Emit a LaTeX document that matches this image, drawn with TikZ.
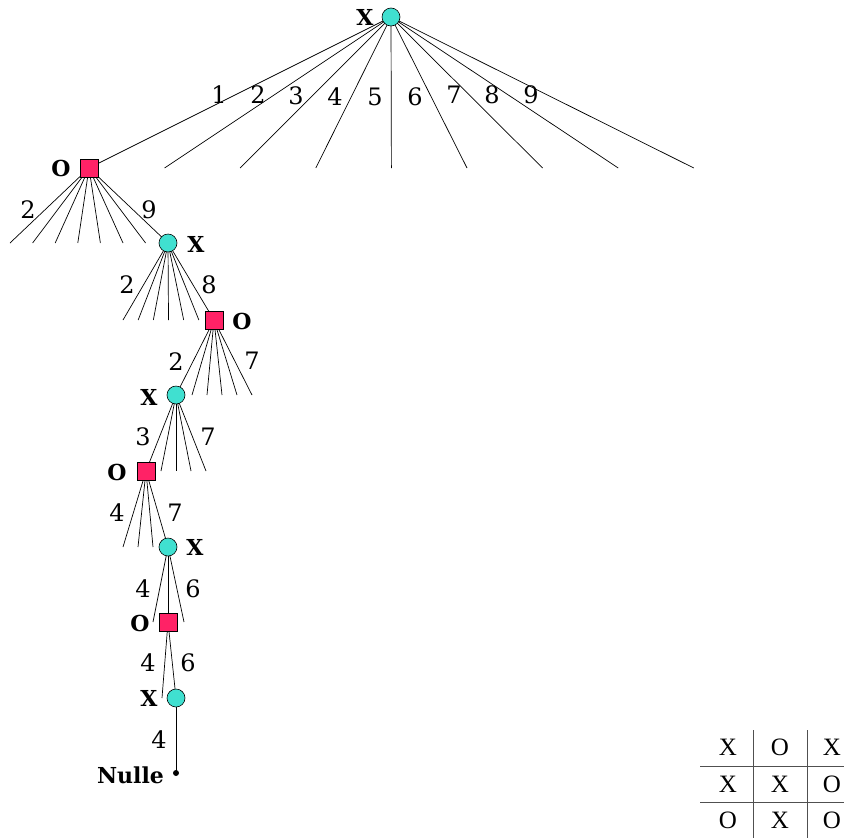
\documentclass[tikz,border=0pt]{standalone}
\usepackage{fontspec}
\setmainfont{DejaVu Serif}
\newfontfamily\gridfont{Liberation Serif}
\definecolor{turq}{RGB}{64,224,208}
\definecolor{pinkr}{RGB}{255,34,102}
\definecolor{gridgray}{RGB}{80,80,80}
\pgfdeclarelayer{background}
\pgfsetlayers{background,main}
\begin{document}
\begin{tikzpicture}[x=1pt,y=-1pt,
  xnode/.style={circle,draw,fill=turq,minimum size=18pt,inner sep=0pt,line width=0.6pt},
  onode/.style={rectangle,draw,fill=pinkr,minimum size=18pt,inner sep=0pt,line width=0.6pt},
  endnode/.style={circle,fill=black,minimum size=6pt,inner sep=0pt},
  lbl/.style={font=\fontsize{24}{26}\selectfont,inner sep=0pt},
  plbl/.style={font=\fontsize{22}{24}\selectfont\bfseries,inner sep=0pt},
  glbl/.style={font=\gridfont\fontsize{25}{27}\selectfont,inner sep=0pt},
  edge/.style={line width=0.7pt},
  gline/.style={line width=0.9pt,draw=gridgray}]
\useasboundingbox (0,0) rectangle (850,838);
% nodes
\node[xnode] (r) at (391,17) {};
\node[onode] (n1) at (89,168) {};
\node[xnode] (n2) at (168,243) {};
\node[onode] (n3) at (214,320) {};
\node[xnode] (n4) at (176,395) {};
\node[onode] (n5) at (146,471) {};
\node[xnode] (n6) at (168,547) {};
\node[onode] (n7) at (168,622) {};
\node[xnode] (n8) at (176,698) {};
\node[endnode] (nul) at (176,773) {};
% leaf ends
\foreach \i in {2,...,9} \coordinate (a\i) at ({89+75.6*(\i-1)},168);
\foreach \k in {0,...,6} \coordinate (b\k) at ({10+22.6*\k},243);
\foreach \k in {0,...,5} \coordinate (c\k) at ({123+15.17*\k},320);
\foreach \k in {0,...,4} \coordinate (d\k) at ({192+15*\k},395);
\foreach \k in {1,...,4} \coordinate (e\k) at ({146+15*\k},471);
\foreach \k in {0,...,2} \coordinate (f\k) at ({123+15*\k},547);
\coordinate (g0) at (153,622);
\coordinate (g1) at (184,622);
\coordinate (h0) at (162,698);
% edges
\begin{pgfonlayer}{background}
\draw[edge] (r.center) -- (n1.center);
\foreach \i in {2,...,9} \draw[edge] (r.center) -- (a\i);
\foreach \k in {0,...,6} \draw[edge] (n1.center) -- (b\k);
\draw[edge] (n1.center) -- (n2.center);
\foreach \k in {0,...,5} \draw[edge] (n2.center) -- (c\k);
\draw[edge] (n2.center) -- (n3.center);
\draw[edge] (n3.center) -- (n4.center);
\foreach \k in {0,...,4} \draw[edge] (n3.center) -- (d\k);
\draw[edge] (n4.center) -- (n5.center);
\foreach \k in {1,...,4} \draw[edge] (n4.center) -- (e\k);
\foreach \k in {0,...,2} \draw[edge] (n5.center) -- (f\k);
\draw[edge] (n5.center) -- (n6.center);
\draw[edge] (n6.center) -- (g0);
\draw[edge] (n6.center) -- (n7.center);
\draw[edge] (n6.center) -- (g1);
\draw[edge] (n7.center) -- (h0);
\draw[edge] (n7.center) -- (n8.center);
\draw[edge] (n8.center) -- (nul.center);
\end{pgfonlayer}
% player labels
\node[plbl] (pr) at (365,17) {X};
\node[plbl] (p1) at (61,168) {O};
\node[plbl] (p2) at (196,244) {X};
\node[plbl] (p3) at (242,321) {O};
\node[plbl] (p4) at (149,397) {X};
\node[plbl] (p5) at (117,472) {O};
\node[plbl] (p6) at (195,547) {X};
\node[plbl] (p7) at (140,623) {O};
\node[plbl] (p8) at (149,698) {X};
\node[plbl] (pn) at (130.5,775) {Nulle};
% move labels
\node[lbl] (m1) at (219,95) {1};
\node[lbl] (m2) at (258,95) {2};
\node[lbl] (m3) at (296,96) {3};
\node[lbl] (m4) at (335,97) {4};
\node[lbl] (m5) at (375,97) {5};
\node[lbl] (m6) at (415,97) {6};
\node[lbl] (m7) at (454,95) {7};
\node[lbl] (m8) at (492,95) {8};
\node[lbl] (m9) at (531,95) {9};
\node[lbl] (l2a) at (28,210) {2};
\node[lbl] (l2b) at (149,210) {9};
\node[lbl] (l3a) at (127,285) {2};
\node[lbl] (l3b) at (209,285) {8};
\node[lbl] (l4a) at (176,362) {2};
\node[lbl] (l4b) at (252,361) {7};
\node[lbl] (l5a) at (143,437) {3};
\node[lbl] (l5b) at (208,437) {7};
\node[lbl] (l6a) at (117,513) {4};
\node[lbl] (l6b) at (175,513) {7};
\node[lbl] (l7a) at (143,589) {4};
\node[lbl] (l7b) at (193,589) {6};
\node[lbl] (l8a) at (148,663) {4};
\node[lbl] (l8b) at (188,663) {6};
\node[lbl] (l9) at (159,740) {4};
% grid
\draw[gline] (753,730) -- (753,838);
\draw[gline] (807,730) -- (807,838);
\draw[gline] (700,766) -- (844,766);
\draw[gline] (700,802) -- (844,802);
\node[glbl] (g11) at (728,747) {X};
\node[glbl] (g12) at (780,747) {O};
\node[glbl] (g13) at (832,747) {X};
\node[glbl] (g21) at (728,784) {X};
\node[glbl] (g22) at (780,784) {X};
\node[glbl] (g23) at (832,784) {O};
\node[glbl] (g31) at (728,820) {O};
\node[glbl] (g32) at (780,820) {X};
\node[glbl] (g33) at (832,820) {O};
\end{tikzpicture}
\end{document}
